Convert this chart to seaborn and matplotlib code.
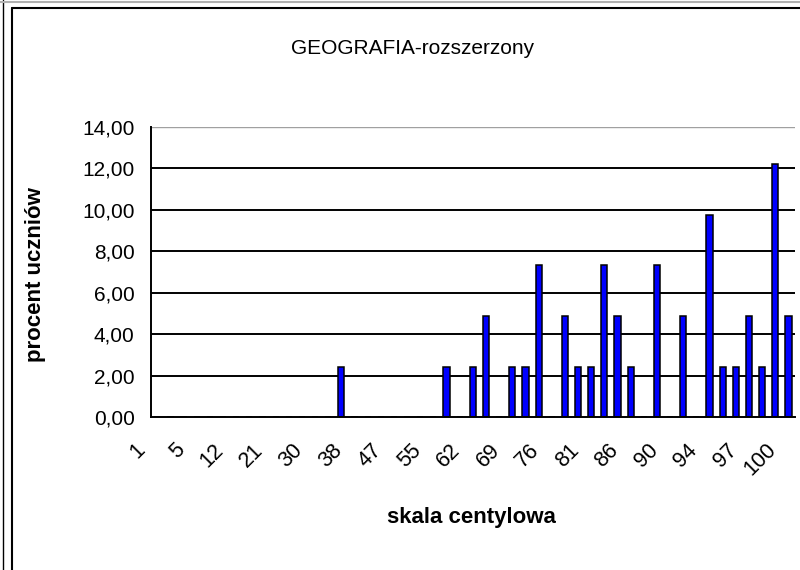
import matplotlib
matplotlib.use("Agg")
import matplotlib.pyplot as plt
import matplotlib.transforms as mtransforms
from matplotlib.lines import Line2D
import seaborn as sns
import numpy as np
import pandas as pd

# ---- data ----
categories = ["1", "2", "4", "5", "7", "9", "12", "15", "18", "21", "24", "27",
              "30", "33", "35", "38", "41", "44", "47", "50", "52", "55", "57", "60",
              "62", "64", "67", "69", "71", "74", "76", "78", "79", "81", "83", "84",
              "86", "87", "89", "90", "91", "93", "94", "95", "96", "97", "98", "99", "100"]
values = [0, 0, 0, 0, 0, 0, 0, 0, 0, 0, 0, 0,
          0, 0, 2.44, 0, 0, 0, 0, 0, 0, 0, 2.44, 0,
          2.44, 4.88, 0, 2.44, 2.44, 7.32, 0, 4.88, 2.44, 2.44, 7.32, 4.88,
          2.44, 0, 7.32, 0, 4.88, 0, 9.76, 2.44, 2.44, 4.88, 2.44, 12.20, 4.88]
y_ticks = [0, 2, 4, 6, 8, 10, 12, 14]
title = "GEOGRAFIA-rozszerzony"
xlabel = "skala centylowa"
ylabel = "procent uczniów"

df = pd.DataFrame({"cat": categories, "val": values})

sns.set_style("white")
plt.rcParams["font.family"] = ["Liberation Sans", "DejaVu Sans"]
plt.rcParams["text.color"] = "black"
plt.rcParams["xtick.color"] = "black"
plt.rcParams["ytick.color"] = "black"
plt.rcParams["xtick.labelcolor"] = "black"
plt.rcParams["ytick.labelcolor"] = "black"

W, H = 800, 570
fig = plt.figure(figsize=(W / 100, H / 100), dpi=100)
x0, x1, ytop, ybot = 150.7, 795.0, 126.8, 417.3
ax = fig.add_axes([x0 / W, 1 - ybot / H, (x1 - x0) / W, (ybot - ytop) / H])

sns.barplot(data=df, x="cat", y="val", order=categories, color="#0000FF",
            saturation=1, edgecolor="black", linewidth=1.1, width=0.47, ax=ax)

ax.set_xlim(-0.5, len(categories) - 0.5)
ax.set_ylim(0, 14)
ax.set_axisbelow(True)

# y axis
ax.set_yticks(y_ticks)
ax.set_yticklabels([f"{v:.2f}".replace(".", ",") for v in y_ticks], fontsize=15)
for v in y_ticks[1:-1]:
    ax.axhline(v, color="black", lw=1.4, zorder=0)
ax.axhline(14, color="#A0A0A0", lw=1.0, zorder=0)
ax.tick_params(axis="y", direction="inout", length=7, width=1.2, pad=8, colors="black")

# x axis
major = list(range(0, len(categories), 3))
ax.set_xticks(major)
ax.set_xticklabels([categories[i] for i in major], rotation=45, ha="right",
                   fontsize=15.5)
ax.set_xticks(np.arange(-0.5, len(categories), 1), minor=True)
ax.tick_params(axis="x", which="major", length=0, pad=16)
ax.tick_params(axis="x", which="minor", direction="out", length=5, width=1.2,
               color="black")
offset = mtransforms.ScaledTranslation(-0.08, 0, fig.dpi_scale_trans)
for lab in ax.get_xticklabels():
    lab.set_transform(lab.get_transform() + offset)

ax.set_xlabel("")
ax.set_ylabel("")
for s in ["left", "bottom"]:
    ax.spines[s].set_color("black")
    ax.spines[s].set_linewidth(1.4)
ax.spines["top"].set_visible(False)
ax.spines["right"].set_visible(False)

# texts
fig.text(413 / W, 1 - 48 / H, title, ha="center", va="center", fontsize=15,
         color="black")
fig.text(471 / W, 1 - 518 / H, xlabel, ha="center", va="center",
         fontsize=16, fontweight="bold", color="black")
fig.text(36 / W, 1 - 275 / H, ylabel, ha="center", va="center", rotation=90,
         fontsize=16, fontweight="bold", color="black")

# chart frame
def px(x, y):
    return x / W, 1 - y / H
fig.add_artist(Line2D([px(3, 0)[0], px(3, 0)[0]], [0, 1], color="black", lw=1.0,
                      transform=fig.transFigure))
fig.add_artist(Line2D([px(11.5, 0)[0], px(11.5, 0)[0]], [0, px(0, 7.5)[1]],
                      color="black", lw=1.5, transform=fig.transFigure))
fig.add_artist(Line2D([px(11.5, 0)[0], 1], [px(0, 7.5)[1], px(0, 7.5)[1]],
                      color="black", lw=1.5, transform=fig.transFigure))
fig.add_artist(Line2D([0, 1], [px(0, 1.5)[1], px(0, 1.5)[1]],
                      color="#B0B0B0", lw=1.5, transform=fig.transFigure))

fig.savefig("out.png", dpi=100)
